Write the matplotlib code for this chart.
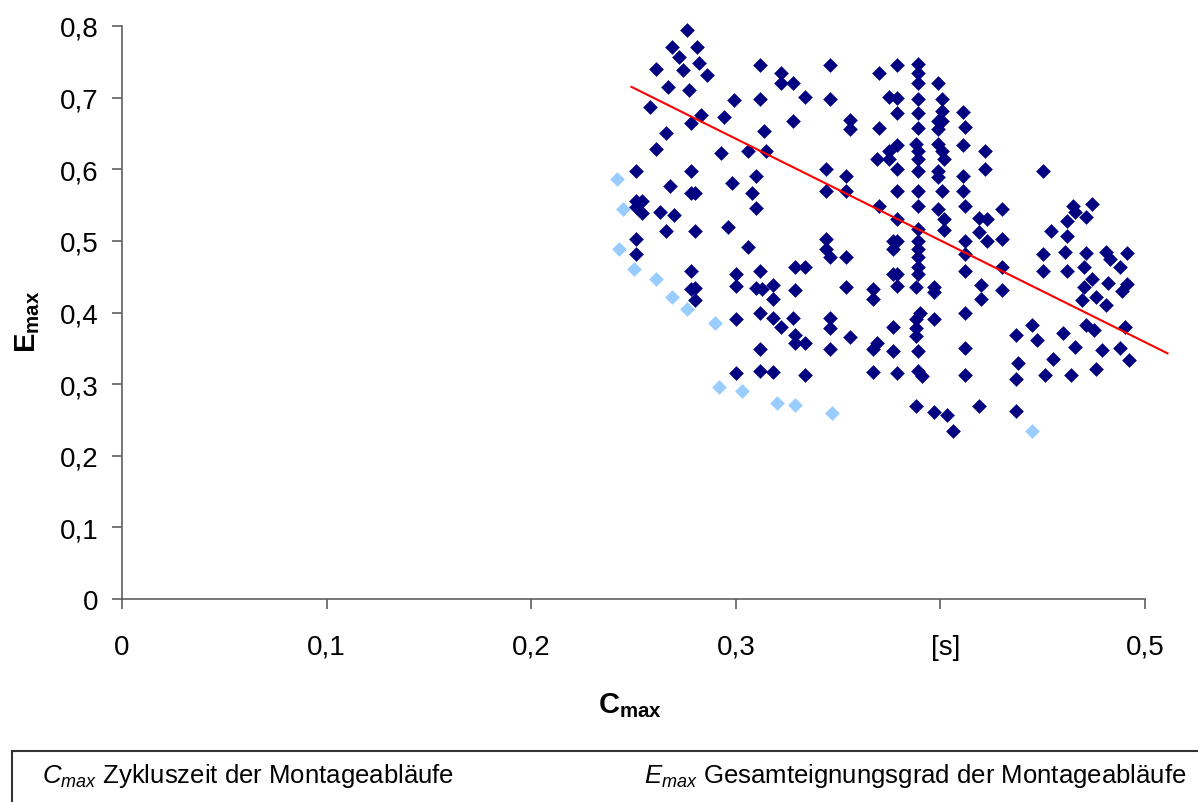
import matplotlib
matplotlib.use("Agg")
import matplotlib.pyplot as plt
import matplotlib.patches as patches

plt.rcParams["font.family"] = ["Liberation Sans", "DejaVu Sans"]
plt.rcParams["mathtext.fontset"] = "custom"
plt.rcParams["mathtext.rm"] = "Liberation Sans"
plt.rcParams["mathtext.it"] = "Liberation Sans:italic"
plt.rcParams["mathtext.bf"] = "Liberation Sans:bold"

# dark blue points (C_max, E_max)
dark_x = [0.276, 0.269, 0.281, 0.272, 0.282, 0.261, 0.274, 0.286, 0.312, 0.322,
          0.322, 0.328, 0.267, 0.277, 0.299, 0.312, 0.258, 0.283, 0.278, 0.294,
          0.328, 0.266, 0.314, 0.261, 0.293, 0.306, 0.315, 0.251, 0.278, 0.310,
          0.268, 0.298, 0.278, 0.280, 0.308, 0.251, 0.254, 0.251, 0.254, 0.263,
          0.270, 0.310, 0.266, 0.280, 0.296, 0.251, 0.251, 0.306, 0.278, 0.300,
          0.312, 0.329, 0.300, 0.310, 0.313, 0.318, 0.278, 0.280, 0.280, 0.318,
          0.329, 0.312, 0.318, 0.322, 0.328, 0.300, 0.329, 0.329, 0.312, 0.300,
          0.312, 0.318, 0.346, 0.370, 0.379, 0.389, 0.389, 0.389, 0.399, 0.334,
          0.346, 0.375, 0.379, 0.389, 0.401, 0.379, 0.389, 0.401, 0.399, 0.401,
          0.411, 0.356, 0.356, 0.370, 0.389, 0.399, 0.412, 0.379, 0.375, 0.388,
          0.389, 0.399, 0.401, 0.411, 0.422, 0.369, 0.375, 0.389, 0.402, 0.379,
          0.389, 0.399, 0.399, 0.411, 0.422, 0.344, 0.354, 0.344, 0.354, 0.379,
          0.389, 0.401, 0.411, 0.370, 0.389, 0.399, 0.412, 0.379, 0.402, 0.419,
          0.423, 0.389, 0.402, 0.419, 0.344, 0.379, 0.344, 0.346, 0.354, 0.334,
          0.377, 0.377, 0.389, 0.389, 0.389, 0.389, 0.389, 0.412, 0.412, 0.423,
          0.412, 0.377, 0.379, 0.379, 0.388, 0.397, 0.397, 0.420, 0.420, 0.354,
          0.367, 0.367, 0.412, 0.346, 0.346, 0.390, 0.388, 0.388, 0.388, 0.397,
          0.377, 0.334, 0.356, 0.369, 0.367, 0.346, 0.377, 0.389, 0.412, 0.334,
          0.367, 0.379, 0.389, 0.391, 0.412, 0.388, 0.397, 0.403, 0.406, 0.419,
          0.450, 0.430, 0.430, 0.465, 0.474, 0.466, 0.471, 0.462, 0.454, 0.462,
          0.450, 0.461, 0.471, 0.481, 0.483, 0.491, 0.430, 0.450, 0.462, 0.470,
          0.488, 0.430, 0.474, 0.470, 0.482, 0.491, 0.489, 0.476, 0.469, 0.481,
          0.445, 0.437, 0.447, 0.460, 0.471, 0.475, 0.490, 0.466, 0.479, 0.488,
          0.438, 0.455, 0.492, 0.437, 0.451, 0.464, 0.476, 0.437]
dark_y = [0.794, 0.771, 0.771, 0.757, 0.749, 0.740, 0.738, 0.732, 0.746, 0.735,
          0.720, 0.721, 0.715, 0.710, 0.696, 0.698, 0.687, 0.676, 0.665, 0.673,
          0.668, 0.651, 0.654, 0.628, 0.623, 0.626, 0.626, 0.598, 0.598, 0.590,
          0.576, 0.581, 0.567, 0.567, 0.567, 0.556, 0.556, 0.547, 0.539, 0.540,
          0.536, 0.546, 0.514, 0.514, 0.520, 0.503, 0.481, 0.492, 0.458, 0.454,
          0.458, 0.464, 0.437, 0.434, 0.433, 0.439, 0.433, 0.434, 0.418, 0.419,
          0.431, 0.399, 0.392, 0.380, 0.392, 0.391, 0.368, 0.357, 0.349, 0.316,
          0.318, 0.317, 0.746, 0.735, 0.746, 0.747, 0.735, 0.721, 0.721, 0.701,
          0.698, 0.701, 0.699, 0.698, 0.698, 0.679, 0.679, 0.681, 0.668, 0.668,
          0.680, 0.669, 0.656, 0.658, 0.658, 0.656, 0.659, 0.634, 0.626, 0.635,
          0.626, 0.635, 0.626, 0.634, 0.625, 0.614, 0.614, 0.614, 0.614, 0.600,
          0.598, 0.598, 0.589, 0.590, 0.600, 0.600, 0.590, 0.569, 0.569, 0.569,
          0.569, 0.569, 0.569, 0.548, 0.548, 0.545, 0.548, 0.531, 0.531, 0.532,
          0.531, 0.517, 0.515, 0.513, 0.503, 0.500, 0.489, 0.477, 0.477, 0.464,
          0.500, 0.489, 0.500, 0.489, 0.477, 0.464, 0.454, 0.500, 0.481, 0.500,
          0.458, 0.454, 0.454, 0.437, 0.435, 0.435, 0.428, 0.439, 0.419, 0.435,
          0.433, 0.419, 0.399, 0.392, 0.379, 0.400, 0.391, 0.379, 0.367, 0.391,
          0.380, 0.358, 0.366, 0.358, 0.349, 0.349, 0.346, 0.346, 0.350, 0.313,
          0.317, 0.316, 0.319, 0.312, 0.313, 0.269, 0.261, 0.257, 0.235, 0.269,
          0.598, 0.545, 0.502, 0.549, 0.551, 0.540, 0.534, 0.528, 0.514, 0.507,
          0.481, 0.484, 0.483, 0.484, 0.475, 0.483, 0.464, 0.458, 0.458, 0.464,
          0.464, 0.431, 0.447, 0.435, 0.441, 0.440, 0.430, 0.422, 0.417, 0.411,
          0.383, 0.369, 0.361, 0.371, 0.383, 0.375, 0.380, 0.352, 0.347, 0.350,
          0.330, 0.335, 0.333, 0.307, 0.313, 0.313, 0.321, 0.263]

# light blue points (lower-left boundary)
light_x = [0.242, 0.245, 0.243, 0.250, 0.261, 0.269, 0.276, 0.290, 0.292, 0.303,
           0.320, 0.329, 0.347, 0.445]
light_y = [0.586, 0.545, 0.489, 0.461, 0.447, 0.421, 0.405, 0.385, 0.296, 0.290,
           0.274, 0.271, 0.260, 0.235]

# trend line end points
trend_x = [0.249, 0.511]
trend_y = [0.715, 0.343]

x_ticks = [0, 0.1, 0.2, 0.3, 0.4, 0.5]
x_tick_labels = ["0", "0,1", "0,2", "0,3", "", "0,5"]
y_ticks = [0, 0.1, 0.2, 0.3, 0.4, 0.5, 0.6, 0.7, 0.8]
y_tick_labels = ["0", "0,1", "0,2", "0,3", "0,4", "0,5", "0,6", "0,7", "0,8"]

fig = plt.figure(figsize=(11.98, 8.03), dpi=100)
ax = fig.add_axes([122 / 1198, 1 - 600 / 803, (1145 - 122) / 1198, (600 - 27) / 803])

ax.scatter(light_x, light_y, marker="D", s=50, color="#99CCFF", linewidths=0.4,
           edgecolors="#99CCFF", zorder=3, clip_on=False)
ax.scatter(dark_x, dark_y, marker="D", s=50, color="#000080", linewidths=0.4,
           edgecolors="#000080", zorder=4, clip_on=False)
ax.plot(trend_x, trend_y, color="#FF0000", lw=1.5, zorder=5, clip_on=False)

ax.set_xlim(0, 0.5)
ax.set_ylim(0, 0.8)
ax.set_xticks(x_ticks)
ax.set_xticklabels(x_tick_labels)
ax.set_yticks(y_ticks)
ax.set_yticklabels(y_tick_labels)

for s in ["top", "right"]:
    ax.spines[s].set_visible(False)
for s in ["left", "bottom"]:
    ax.spines[s].set_color("#606060")
    ax.spines[s].set_linewidth(1.2)
ax.tick_params(axis="x", direction="out", length=7, width=1.2, color="#606060",
               labelsize=20, pad=18)
ax.tick_params(axis="y", direction="out", length=7, width=1.2, color="#606060",
               labelsize=20, pad=10)

# unit label sitting where 0,4 would be
ax.text(0.4025, -0.067, "[s]", fontsize=20, ha="center", va="center")

fig.text(630 / 1198, 1 - 706 / 803, r"$\mathbf{C}_{\mathbf{max}}$", fontsize=21,
         ha="center", va="center")
fig.text(28 / 1198, 1 - 322 / 803, r"$\mathbf{E}_{\mathbf{max}}$", fontsize=21,
         ha="center", va="center", rotation=90)

# bottom legend box
fig.patches.append(patches.Rectangle((12 / 1198, -0.05), 1.2, 0.05 + (803 - 752) / 803,
                                     transform=fig.transFigure, fill=False,
                                     edgecolor="#333333", lw=1.5))
fig.text(42 / 1198, 1 - 776 / 803, r"$\mathit{C}_{\mathit{max}}$ Zykluszeit der Montageabläufe",
         fontsize=18.5, ha="left", va="center")
fig.text(1186 / 1198, 1 - 776 / 803, r"$\mathit{E}_{\mathit{max}}$ Gesamteignungsgrad der Montageabläufe",
         fontsize=18.5, ha="right", va="center")

fig.savefig("out.png", dpi=100)
